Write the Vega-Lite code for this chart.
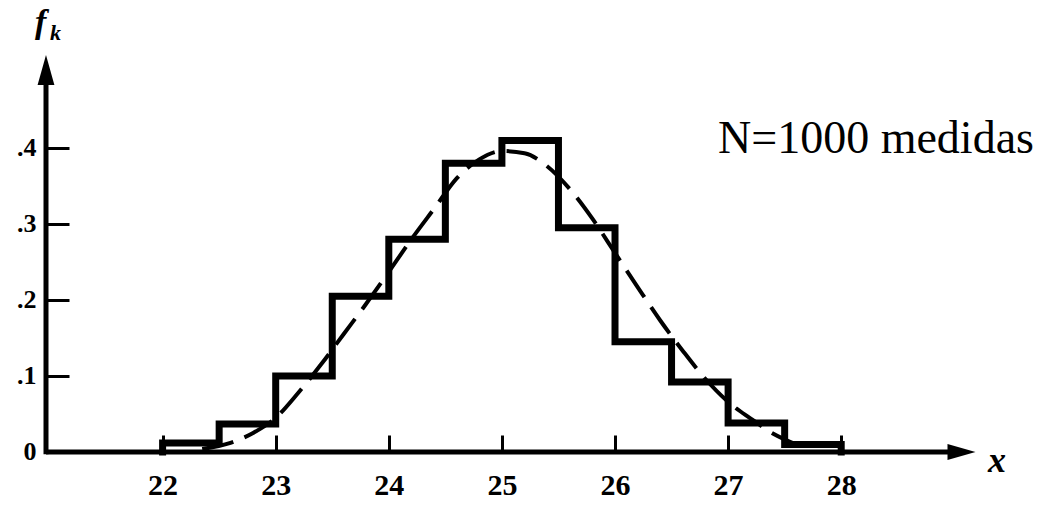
{
  "$schema": "https://vega.github.io/schema/vega-lite/v6.json",
  "width": 1044,
  "height": 506,
  "autosize": {"type": "none"},
  "padding": 0,
  "background": "white",
  "config": {"view": {"stroke": null}},
  "resolve": {"axis": {"x": "independent", "y": "independent"}},
  "datasets": {
    "hist": [
      {"x": 22, "f": 0},
      {"x": 22, "f": 0.012},
      {"x": 22.5, "f": 0.037},
      {"x": 23, "f": 0.1},
      {"x": 23.5, "f": 0.205},
      {"x": 24, "f": 0.28},
      {"x": 24.5, "f": 0.38},
      {"x": 25, "f": 0.41},
      {"x": 25.5, "f": 0.295},
      {"x": 26, "f": 0.145},
      {"x": 26.5, "f": 0.092},
      {"x": 27, "f": 0.038},
      {"x": 27.5, "f": 0.01},
      {"x": 28, "f": 0.01},
      {"x": 28, "f": 0}
    ],
    "curve": [
      {"x": 22.35, "f": 0.004},
      {"x": 22.6, "f": 0.012},
      {"x": 22.8, "f": 0.025},
      {"x": 23.0, "f": 0.045},
      {"x": 23.2, "f": 0.078},
      {"x": 23.4, "f": 0.115},
      {"x": 23.6, "f": 0.155},
      {"x": 23.8, "f": 0.195},
      {"x": 24.0, "f": 0.237},
      {"x": 24.2, "f": 0.28},
      {"x": 24.4, "f": 0.32},
      {"x": 24.6, "f": 0.36},
      {"x": 24.8, "f": 0.385},
      {"x": 25.0, "f": 0.396},
      {"x": 25.2, "f": 0.393},
      {"x": 25.4, "f": 0.376},
      {"x": 25.6, "f": 0.346},
      {"x": 25.8, "f": 0.307},
      {"x": 26.0, "f": 0.262},
      {"x": 26.2, "f": 0.217},
      {"x": 26.4, "f": 0.173},
      {"x": 26.6, "f": 0.133},
      {"x": 26.8, "f": 0.096},
      {"x": 27.0, "f": 0.066},
      {"x": 27.2, "f": 0.044},
      {"x": 27.4, "f": 0.024},
      {"x": 27.6, "f": 0.01}
    ]
  },
  "layer": [
    {
      "data": {"name": "curve"},
      "mark": {"type": "line", "color": "black", "strokeWidth": 4, "strokeDash": [32, 12], "interpolate": "monotone"},
      "encoding": {
        "x": {
          "field": "x", "type": "quantitative",
          "scale": {"domain": [20.5623, 29.793], "nice": false, "zero": false},
          "axis": {
            "values": [22, 23, 24, 25, 26, 27, 28], "format": "d", "title": null,
            "offset": -54, "domain": false, "grid": false,
            "tickSize": -17, "tickWidth": 3, "tickColor": "black",
            "labelPadding": 35, "labelFont": "Liberation Serif", "labelFontSize": 30,
            "labelFontWeight": "bold", "labelColor": "black",
            "labelFlush": false, "labelOverlap": false
          }
        },
        "y": {
          "field": "f", "type": "quantitative",
          "scale": {"domain": [-0.07105, 0.5947], "nice": false, "zero": false},
          "axis": {
            "values": [0, 0.1, 0.2, 0.3, 0.4], "title": null,
            "offset": -46, "domain": false, "grid": false,
            "tickSize": -23, "tickWidth": 3, "tickColor": "black",
            "labelPadding": 33, "labelFont": "Liberation Serif", "labelFontSize": 26,
            "labelFontWeight": "bold", "labelColor": "black",
            "labelFlush": false, "labelOverlap": false,
            "labelExpr": "datum.value == 0 ? '0' : substring(format(datum.value, '.1f'), 1)"
          }
        }
      }
    },
    {
      "data": {"name": "hist"},
      "mark": {"type": "line", "interpolate": "step-after", "color": "black", "strokeWidth": 7, "strokeJoin": "miter", "strokeCap": "square"},
      "encoding": {
        "x": {"field": "x", "type": "quantitative", "axis": null},
        "y": {"field": "f", "type": "quantitative", "axis": null},
        "order": {"value": null}
      }
    },
    {
      "data": {"values": [{}]},
      "mark": {"type": "rule", "color": "black", "strokeWidth": 5},
      "encoding": {
        "x": {"datum": 20.969, "type": "quantitative", "axis": null},
        "x2": {"datum": 29.0},
        "y": {"datum": 0, "type": "quantitative", "axis": null}
      }
    },
    {
      "data": {"values": [{}]},
      "mark": {"type": "rule", "color": "black", "strokeWidth": 5},
      "encoding": {
        "x": {"datum": 20.969, "type": "quantitative", "axis": null},
        "y": {"datum": -0.003, "type": "quantitative", "axis": null},
        "y2": {"datum": 0.49}
      }
    },
    {
      "data": {"values": [{}]},
      "mark": {"type": "point", "filled": true, "color": "black", "opacity": 1, "strokeWidth": 0, "size": 900, "shape": "M0,-1L0.56,1L-0.56,1Z"},
      "encoding": {
        "x": {"datum": 20.969, "type": "quantitative", "axis": null},
        "y": {"datum": 0.5026, "type": "quantitative", "axis": null}
      }
    },
    {
      "data": {"values": [{}]},
      "mark": {"type": "point", "filled": true, "color": "black", "opacity": 1, "strokeWidth": 0, "size": 784, "shape": "M1,0L-1,-0.58L-1,0.58Z"},
      "encoding": {
        "x": {"datum": 29.0636, "type": "quantitative", "axis": null},
        "y": {"datum": 0, "type": "quantitative", "axis": null}
      }
    },
    {
      "data": {"values": [{"label": "N=1000 medidas"}]},
      "mark": {"type": "text", "align": "left", "baseline": "alphabetic", "font": "Liberation Serif", "fontSize": 46, "color": "black"},
      "encoding": {
        "x": {"datum": 26.9106, "type": "quantitative", "axis": null},
        "y": {"datum": 0.3934, "type": "quantitative", "axis": null},
        "text": {"field": "label"}
      }
    },
    {
      "data": {"values": [{"label": "f"}]},
      "mark": {"type": "text", "align": "left", "baseline": "alphabetic", "font": "Liberation Serif", "fontSize": 34, "fontStyle": "italic", "fontWeight": "bold", "color": "black"},
      "encoding": {
        "x": {"datum": 20.8718, "type": "quantitative", "axis": null},
        "y": {"datum": 0.5513, "type": "quantitative", "axis": null},
        "text": {"field": "label"}
      }
    },
    {
      "data": {"values": [{"label": "k"}]},
      "mark": {"type": "text", "align": "left", "baseline": "alphabetic", "font": "Liberation Serif", "fontSize": 22, "fontStyle": "italic", "fontWeight": "bold", "color": "black"},
      "encoding": {
        "x": {"datum": 21.0044, "type": "quantitative", "axis": null},
        "y": {"datum": 0.5421, "type": "quantitative", "axis": null},
        "text": {"field": "label"}
      }
    },
    {
      "data": {"values": [{"label": "x"}]},
      "mark": {"type": "text", "align": "left", "baseline": "alphabetic", "font": "Liberation Serif", "fontSize": 36, "fontStyle": "italic", "fontWeight": "bold", "color": "black"},
      "encoding": {
        "x": {"datum": 29.298, "type": "quantitative", "axis": null},
        "y": {"datum": -0.0263, "type": "quantitative", "axis": null},
        "text": {"field": "label"}
      }
    }
  ]
}
